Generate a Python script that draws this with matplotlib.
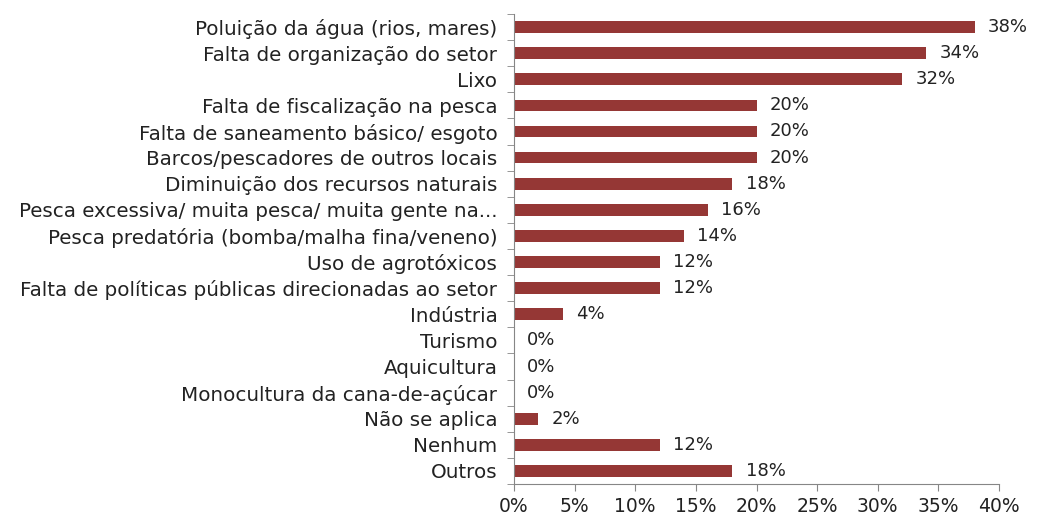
import matplotlib.pyplot as plt
import numpy as np
from matplotlib.ticker import FixedLocator, PercentFormatter

plt.rcParams['font.family'] = ['DejaVu Sans']

categories = [
    "Poluição da água (rios, mares)",
    "Falta de organização do setor",
    "Lixo",
    "Falta de fiscalização na pesca",
    "Falta de saneamento básico/ esgoto",
    "Barcos/pescadores de outros locais",
    "Diminuição dos recursos naturais",
    "Pesca excessiva/ muita pesca/ muita gente na...",
    "Pesca predatória (bomba/malha fina/veneno)",
    "Uso de agrotóxicos",
    "Falta de políticas públicas direcionadas ao setor",
    "Indústria",
    "Turismo",
    "Aquicultura",
    "Monocultura da cana-de-açúcar",
    "Não se aplica",
    "Nenhum",
    "Outros",
]
values = [38, 34, 32, 20, 20, 20, 18, 16, 14, 12, 12, 4, 0, 0, 0, 2, 12, 18]
x_ticks = [0, 5, 10, 15, 20, 25, 30, 35, 40]

fig = plt.figure(figsize=(10.41, 5.18), dpi=100)
ax = fig.add_axes([514 / 1041, 1 - 484 / 518, 485 / 1041, 470 / 518])

y = np.arange(len(categories))
ax.barh(y, values, height=0.45, color="#953735")
for yi, v in zip(y, values):
    ax.text(v + 1.1, yi, f"{v}%", va="center", ha="left", fontsize=13, color="#222222")

ax.set_ylim(len(categories) - 0.5, -0.5)
ax.set_xlim(0, 40)
ax.set_yticks(y)
ax.set_yticklabels(categories, fontsize=14.3, color="#222222")
ax.yaxis.set_minor_locator(FixedLocator(np.arange(-0.5, len(categories), 1)))
ax.tick_params(axis="y", which="major", length=0, pad=12)
ax.tick_params(axis="y", which="minor", length=5, color="#868686")
ax.set_xticks(x_ticks)
ax.xaxis.set_major_formatter(PercentFormatter(decimals=0))
ax.tick_params(axis="x", length=5, color="#868686", labelsize=13.5, labelcolor="#222222", pad=4)

for side in ["top", "right"]:
    ax.spines[side].set_visible(False)
for side in ["left", "bottom"]:
    ax.spines[side].set_color("#868686")

fig.savefig("out.png", dpi=100)
